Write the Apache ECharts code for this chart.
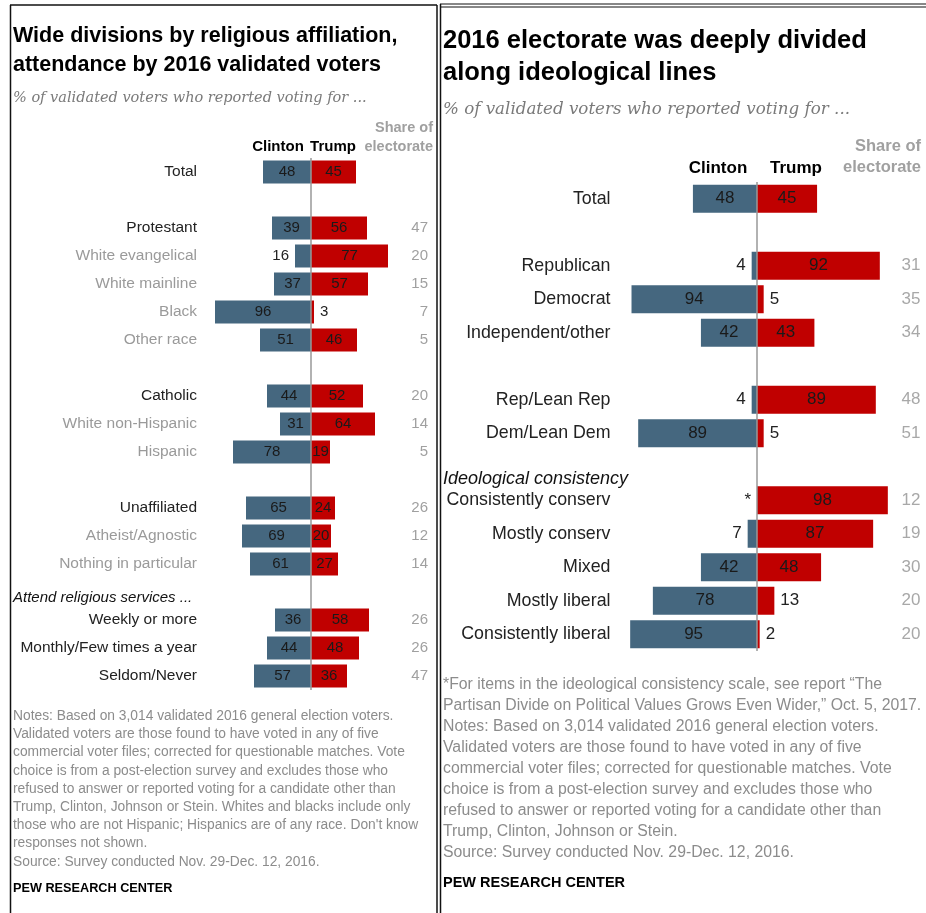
<!DOCTYPE html>
<html>
<head>
<meta charset="utf-8">
<title>Pew - validated voters 2016</title>
<script src="https://cdn.jsdelivr.net/npm/echarts@6/dist/echarts.min.js"></script>
<style>
html,body{margin:0;padding:0;background:#fff;}
#main{width:926px;height:913px;}
</style>
</head>
<body>
<div id="main"></div>
<script>
// left panel: religion
var leftCats = ['Total','','Protestant','White evangelical','White mainline','Black','Other race','','Catholic','White non-Hispanic','Hispanic','','Unaffiliated','Atheist/Agnostic','Nothing in particular','','Weekly or more','Monthly/Few times a year','Seldom/Never'];
var leftClinton = [48,null,39,16,37,96,51,null,44,31,78,null,65,69,61,null,36,44,57];
var leftTrump = [45,null,56,77,57,3,46,null,52,64,19,null,24,20,27,null,58,48,36];
var leftShare = [null,null,47,20,15,7,5,null,20,14,5,null,26,12,14,null,26,26,47];
var leftSub = ['White evangelical','White mainline','Black','Other race','White non-Hispanic','Hispanic','Atheist/Agnostic','Nothing in particular'];

// right panel: ideology  (0 = "*" less than 1%)
var rightCats = ['Total','','Republican','Democrat','Independent/other','','Rep/Lean Rep','Dem/Lean Dem','','Consistently conserv','Mostly conserv','Mixed','Mostly liberal','Consistently liberal'];
var rightClinton = [48,null,4,94,42,null,4,89,null,0,7,42,78,95];
var rightTrump = [45,null,92,5,43,null,89,5,null,98,87,48,13,2];
var rightShare = [null,null,31,35,34,null,48,51,null,12,19,30,20,20];

var leftNotes = [
	'Notes: Based on 3,014 validated 2016 general election voters.',
	'Validated voters are those found to have voted in any of five',
	'commercial voter files; corrected for questionable matches. Vote',
	'choice is from a post-election survey and excludes those who',
	'refused to answer or reported voting for a candidate other than',
	'Trump, Clinton, Johnson or Stein. Whites and blacks include only',
	'those who are not Hispanic; Hispanics are of any race. Don\'t know',
	'responses not shown.',
	'Source: Survey conducted Nov. 29-Dec. 12, 2016.'
];
var rightNotes = [
	'*For items in the ideological consistency scale, see report \u201cThe',
	'Partisan Divide on Political Values Grows Even Wider,\u201d Oct. 5, 2017.',
	'Notes: Based on 3,014 validated 2016 general election voters.',
	'Validated voters are those found to have voted in any of five',
	'commercial voter files; corrected for questionable matches. Vote',
	'choice is from a post-election survey and excludes those who',
	'refused to answer or reported voting for a candidate other than',
	'Trump, Clinton, Johnson or Stein.',
	'Source: Survey conducted Nov. 29-Dec. 12, 2016.'
];

var FONT = '"Liberation Sans", Arial, sans-serif';
var SERIF = '"DejaVu Serif", "Liberation Serif", serif';
var BLUE = '#45677f';
var RED = '#c00000';

// build bar data; small values get the label outside the bar
function barData(vals, sign, side){
	var out = [];
	for(var i = 0; i < vals.length; i++){
		var v = vals[i];
		if(v === null){ out.push(null); continue; }
		var item = {value: sign * v};
		if(v < 17){
			item.label = {position: side, distance: 6, color: '#222'};
		}
		out.push(item);
	}
	return out;
}

function labelFmt(p){
	var v = Math.abs(p.value);
	return v === 0 ? '*' : v;
}

function makeSeries(idx, clinton, trump, bw, fs){
	var common = {
		type: 'bar',
		stack: 'side' + idx,
		xAxisIndex: idx,
		yAxisIndex: idx * 2,
		barWidth: bw,
		silent: true,
		label: {show: true, position: 'inside', formatter: labelFmt, color: '#1a1a1a', fontSize: fs, fontFamily: FONT}
	};
	var c = echarts.util.merge({name: 'Clinton', itemStyle: {color: BLUE}, data: barData(clinton, -1, 'left')}, common, true);
	var t = echarts.util.merge({name: 'Trump', itemStyle: {color: RED}, data: barData(trump, 1, 'right'),
		markLine: {silent: true, symbol: 'none', label: {show: false}, lineStyle: {color: '#999', width: 1.5, type: 'solid'}, data: [{xAxis: 0}]}
	}, common, true);
	return [c, t];
}

function catAxis(gi, cats, margin, fs, colorFn){
	return {
		type: 'category', gridIndex: gi, data: cats, inverse: true,
		axisLine: {show: false}, axisTick: {show: false},
		axisLabel: {interval: 0, margin: margin, fontSize: fs, fontFamily: FONT, color: colorFn}
	};
}
function shareAxis(gi, cats, share, margin, fs, color){
	return {
		type: 'category', gridIndex: gi, data: cats, inverse: true, position: 'right',
		axisLine: {show: false}, axisTick: {show: false},
		axisLabel: {interval: 0, margin: margin, align: 'right', fontSize: fs, fontFamily: FONT, color: color,
			formatter: function(v, i){ return share[i] == null ? '' : String(share[i]); }}
	};
}

function txt(x, y, s, o){
	var st = {text: s, fontFamily: FONT, fontSize: 13, fill: '#222', textVerticalAlign: 'middle'};
	for(var k in o){ st[k] = o[k]; }
	return {type: 'text', x: x, y: y, style: st, silent: true};
}
function vline(x, y1, y2, w){
	return {type: 'line', shape: {x1: x, y1: y1, x2: x, y2: y2}, style: {stroke: '#111', lineWidth: w}, silent: true};
}
function hline(y, x1, x2, w){
	return {type: 'line', shape: {x1: x1, y1: y, x2: x2, y2: y}, style: {stroke: '#111', lineWidth: w}, silent: true};
}

var myChart = echarts.init(document.getElementById('main'), null, {renderer: 'canvas'});

var graphics = [
	// frames
	hline(5, 10, 437, 1.5), vline(10.5, 5, 913, 1.5), vline(437, 5, 913, 1.5),
	hline(4, 440, 926, 1.2), hline(7, 440, 926, 1.2), vline(440.5, 4, 913, 1.5),
	// left texts
	txt(13, 36, 'Wide divisions by religious affiliation,', {fontSize: 21.5, fontWeight: 'bold', fill: '#000'}),
	txt(13, 65, 'attendance by 2016 validated voters', {fontSize: 21.5, fontWeight: 'bold', fill: '#000'}),
	txt(13, 98, '% of validated voters who reported voting for ...', {fontFamily: SERIF, fontStyle: 'italic', fontSize: 14.5, fill: '#7a7a7a'}),
	txt(433, 128, 'Share of', {fontSize: 14.5, fontWeight: 'bold', fill: '#a0a0a0', textAlign: 'right'}),
	txt(433, 147, 'electorate', {fontSize: 14.5, fontWeight: 'bold', fill: '#a0a0a0', textAlign: 'right'}),
	txt(278, 147, 'Clinton', {fontSize: 15, fontWeight: 'bold', fill: '#000', textAlign: 'center'}),
	txt(333, 147, 'Trump', {fontSize: 15, fontWeight: 'bold', fill: '#000', textAlign: 'center'}),
	txt(13, 598, 'Attend religious services ...', {fontSize: 15, fontStyle: 'italic', fill: '#111'}),
	txt(13, 789, leftNotes.join('\n'), {fontSize: 13.8, fill: '#8c8c8c', lineHeight: 18.2}),
	txt(13, 888, 'PEW RESEARCH CENTER', {fontSize: 12.7, fontWeight: 'bold', fill: '#000'}),
	// right texts
	txt(443, 41, '2016 electorate was deeply divided', {fontSize: 25.5, fontWeight: 'bold', fill: '#000'}),
	txt(443, 73, 'along ideological lines', {fontSize: 25.5, fontWeight: 'bold', fill: '#000'}),
	txt(443, 110, '% of validated voters who reported voting for ...', {fontFamily: SERIF, fontStyle: 'italic', fontSize: 16.7, fill: '#7a7a7a'}),
	txt(921, 146, 'Share of', {fontSize: 16.5, fontWeight: 'bold', fill: '#a0a0a0', textAlign: 'right'}),
	txt(921, 167, 'electorate', {fontSize: 16.5, fontWeight: 'bold', fill: '#a0a0a0', textAlign: 'right'}),
	txt(718, 168, 'Clinton', {fontSize: 17, fontWeight: 'bold', fill: '#000', textAlign: 'center'}),
	txt(796, 168, 'Trump', {fontSize: 17, fontWeight: 'bold', fill: '#000', textAlign: 'center'}),
	txt(443, 479, 'Ideological consistency', {fontSize: 18, fontStyle: 'italic', fill: '#111'}),
	txt(443, 769, rightNotes.join('\n'), {fontSize: 15.8, fill: '#8c8c8c', lineHeight: 21}),
	txt(443, 883, 'PEW RESEARCH CENTER', {fontSize: 14.5, fontWeight: 'bold', fill: '#000'})
];

var option = {
	animation: false,
	backgroundColor: '#fff',
	grid: [
		{left: 211, width: 200, top: 158, height: 532},
		{left: 623.5, width: 267, top: 182, height: 469}
	],
	xAxis: [
		{type: 'value', gridIndex: 0, min: -100, max: 100, show: false},
		{type: 'value', gridIndex: 1, min: -100, max: 100, show: false}
	],
	yAxis: [
		catAxis(0, leftCats, 14, 15.5, function(v){ return leftSub.indexOf(v) >= 0 ? '#9a9a9a' : '#222'; }),
		shareAxis(0, leftCats, leftShare, 17, 15, '#a0a0a0'),
		catAxis(1, rightCats, 13, 17.8, function(){ return '#222'; }),
		shareAxis(1, rightCats, rightShare, 30, 17, '#a8a8a8')
	],
	series: makeSeries(0, leftClinton, leftTrump, 23, 15).concat(makeSeries(1, rightClinton, rightTrump, 28, 17)),
	graphic: graphics
};
myChart.setOption(option);
</script>
</body>
</html>
